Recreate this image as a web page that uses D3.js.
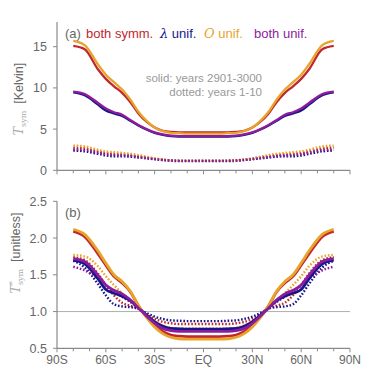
<!DOCTYPE html>
<html lang="en">
<head>
<meta charset="UTF-8">
<title>T_sym</title>
<script src="https://cdn.jsdelivr.net/npm/d3@7/dist/d3.min.js"></script>
<style>
  body { margin: 0; background: #fff; }
  svg { font-family: "Liberation Sans", Arial, sans-serif; }
</style>
</head>
<body>
<div id="chart"></div>
<script>
// latitudes of the curves
const lats = [-80,-73,-65,-60,-55,-50,-45,-40,-35,-30,-25,-20,-15,-10,-5,0,5,10,15,20,25,30,35,40,45,50,55,60,65,73,80]

// panel (a) Tsym [Kelvin], solid = years 2901-3000
const aRedSolid    = [15.1,14.7,12.3,11.1,10.2,9.4,8.3,6.9,5.9,5.2,4.8,4.65,4.6,4.6,4.6,4.6,4.6,4.6,4.6,4.65,4.8,5.2,5.9,6.9,8.3,9.4,10.2,11.1,12.3,14.7,15.1]
const aBlueSolid   = [9.45,9.1,8.0,7.25,6.9,6.6,6.0,5.45,4.95,4.55,4.3,4.15,4.1,4.1,4.1,4.1,4.1,4.1,4.1,4.15,4.3,4.55,4.95,5.45,6.0,6.6,6.9,7.25,8.0,9.1,9.45]
const aOrangeSolid = [15.7,15.2,12.9,11.6,10.7,9.8,8.6,7.1,6.0,5.2,4.75,4.55,4.5,4.45,4.45,4.45,4.45,4.45,4.5,4.55,4.75,5.2,6.0,7.1,8.6,9.8,10.7,11.6,12.9,15.2,15.7]
const aPurpleSolid = [9.55,9.25,8.2,7.5,7.05,6.75,6.1,5.5,5.0,4.6,4.35,4.2,4.15,4.15,4.15,4.15,4.15,4.15,4.15,4.2,4.35,4.6,5.0,5.5,6.1,6.75,7.05,7.5,8.2,9.25,9.55]
// dotted = years 1-10
const aRedDot    = [2.75,2.65,2.3,2.1,2.0,1.95,1.85,1.7,1.55,1.4,1.3,1.2,1.15,1.15,1.15,1.15,1.15,1.15,1.15,1.2,1.3,1.4,1.55,1.7,1.85,1.95,2.0,2.1,2.3,2.65,2.75]
const aBlueDot   = [2.4,2.3,2.0,1.8,1.7,1.7,1.65,1.55,1.45,1.35,1.25,1.15,1.12,1.12,1.12,1.12,1.12,1.12,1.12,1.15,1.25,1.35,1.45,1.55,1.65,1.7,1.7,1.8,2.0,2.3,2.4]
const aOrangeDot = [3.0,2.9,2.5,2.3,2.2,2.1,2.0,1.85,1.65,1.45,1.3,1.2,1.15,1.15,1.15,1.15,1.15,1.15,1.15,1.2,1.3,1.45,1.65,1.85,2.0,2.1,2.2,2.3,2.5,2.9,3.0]
const aPurpleDot = [2.5,2.45,2.15,1.95,1.85,1.8,1.75,1.6,1.5,1.35,1.25,1.2,1.15,1.15,1.15,1.15,1.15,1.15,1.15,1.2,1.25,1.35,1.5,1.6,1.75,1.8,1.85,1.95,2.15,2.45,2.5]

// panel (b) T*sym [unitless]
const bRedSolid    = [2.09,2.02,1.79,1.63,1.48,1.39,1.27,1.08,0.93,0.81,0.73,0.68,0.665,0.66,0.66,0.66,0.66,0.66,0.665,0.68,0.73,0.81,0.93,1.08,1.27,1.39,1.48,1.63,1.79,2.02,2.09]
const bBlueSolid   = [1.70,1.65,1.45,1.30,1.25,1.21,1.15,1.05,0.95,0.86,0.80,0.77,0.765,0.76,0.76,0.76,0.76,0.76,0.765,0.77,0.80,0.86,0.95,1.05,1.15,1.21,1.25,1.30,1.45,1.65,1.70]
const bOrangeSolid = [2.12,2.05,1.83,1.66,1.50,1.41,1.28,1.08,0.92,0.79,0.70,0.65,0.63,0.625,0.625,0.625,0.625,0.625,0.63,0.65,0.70,0.79,0.92,1.08,1.28,1.41,1.50,1.66,1.83,2.05,2.12]
const bPurpleSolid = [1.72,1.68,1.50,1.36,1.29,1.24,1.16,1.05,0.94,0.84,0.77,0.74,0.73,0.73,0.73,0.73,0.73,0.73,0.73,0.74,0.77,0.84,0.94,1.05,1.16,1.24,1.29,1.36,1.50,1.68,1.72]
const bRedDot    = [1.74,1.70,1.52,1.36,1.22,1.12,1.08,1.04,0.96,0.90,0.86,0.84,0.83,0.83,0.83,0.83,0.83,0.83,0.83,0.84,0.86,0.90,0.96,1.04,1.08,1.12,1.22,1.36,1.52,1.70,1.74]
const bBlueDot   = [1.69,1.60,1.38,1.22,1.10,1.07,1.06,1.04,0.98,0.93,0.90,0.88,0.875,0.87,0.87,0.87,0.87,0.87,0.875,0.88,0.90,0.93,0.98,1.04,1.06,1.07,1.10,1.22,1.38,1.60,1.69]
const bOrangeDot = [1.77,1.75,1.62,1.48,1.36,1.25,1.16,1.06,0.95,0.87,0.81,0.78,0.77,0.77,0.77,0.77,0.77,0.77,0.77,0.78,0.81,0.87,0.95,1.06,1.16,1.25,1.36,1.48,1.62,1.75,1.77]
const bPurpleDot = [1.61,1.56,1.45,1.36,1.27,1.20,1.13,1.05,0.95,0.86,0.80,0.77,0.76,0.755,0.755,0.755,0.755,0.755,0.76,0.77,0.80,0.86,0.95,1.05,1.13,1.20,1.27,1.36,1.45,1.56,1.61]

const xTicks = [-90,-60,-30,0,30,60,90]
const xTickLabels = ['90S','60S','30S','EQ','30N','60N','90N']
const xMinorTicks = d3.range(-90, 91, 10)
const aYTicks = [0,5,10,15]
const bYTicks = [0.5,1.0,1.5,2.0,2.5]

const colors = { red: '#c0282d', blue: '#16168c', orange: '#e8a32a', purple: '#8c1c9c' }
const axisColor = '#8a8a8a'
const textColor = '#666'

const width = 374
const height = 372
const svg = d3.select('#chart').append('svg')
    .attr('width', width)
    .attr('height', height)

const xScale = d3.scaleLinear().domain([-90, 90]).range([57, 350])

function drawPanel(cfg) {
    const y = d3.scaleLinear().domain(cfg.domain).range(cfg.range)
    const g = svg.append('g')

    if (cfg.refLine != null) {
        g.append('line')
            .attr('x1', xScale(-90)).attr('x2', xScale(90))
            .attr('y1', y(cfg.refLine)).attr('y2', y(cfg.refLine))
            .attr('stroke', '#b0b0b0').attr('stroke-width', 1)
    }

    // x axis
    const xg = g.append('g').attr('transform', `translate(0,${cfg.range[0]})`)
    xg.append('line').attr('x1', xScale(-90)).attr('x2', xScale(90))
        .attr('stroke', axisColor).attr('stroke-width', 1.2)
    xg.selectAll('.minor').data(xMinorTicks).enter().append('line')
        .attr('x1', d => xScale(d)).attr('x2', d => xScale(d))
        .attr('y1', 0).attr('y2', d => d % 30 === 0 ? 4 : 3)
        .attr('stroke', axisColor).attr('stroke-width', 1)
    if (cfg.xLabels) {
        xg.selectAll('.xl').data(xTicks).enter().append('text')
            .attr('x', d => xScale(d)).attr('y', 16)
            .attr('text-anchor', 'middle')
            .attr('font-size', 12).attr('fill', textColor)
            .text((d, i) => xTickLabels[i])
    }

    // y axis
    const yg = g.append('g').attr('transform', `translate(${xScale(-90)},0)`)
    yg.append('line').attr('y1', cfg.range[0]).attr('y2', cfg.range[1])
        .attr('stroke', axisColor).attr('stroke-width', 1.2)
    yg.selectAll('.yt').data(cfg.ticks).enter().append('line')
        .attr('x1', -4).attr('x2', 0)
        .attr('y1', d => y(d)).attr('y2', d => y(d))
        .attr('stroke', axisColor)
    yg.selectAll('.yl').data(cfg.ticks).enter().append('text')
        .attr('x', -10).attr('y', d => y(d) + 4.5)
        .attr('text-anchor', 'end')
        .attr('font-size', 12.5).attr('fill', textColor)
        .text(cfg.fmt)

    // y label
    const lab = g.append('text')
        .attr('transform', `translate(${cfg.labelX},${cfg.labelY}) rotate(-90)`)
        .attr('text-anchor', 'middle')
        .attr('font-size', 12.5)
    lab.append('tspan').attr('font-family', '"DejaVu Serif", serif').attr('font-style', 'italic')
        .attr('fill', '#aaa').text('T')
    if (cfg.star) {
        lab.append('tspan').attr('font-family', '"DejaVu Serif", serif').attr('font-size', 8)
            .attr('dy', -5).attr('fill', '#aaa').text('*')
        lab.append('tspan').attr('font-family', '"DejaVu Serif", serif').attr('font-size', 8)
            .attr('dx', -4).attr('dy', 8).attr('fill', '#aaa').text('sym')
    } else {
        lab.append('tspan').attr('font-family', '"DejaVu Serif", serif').attr('font-size', 8)
            .attr('dy', 3).attr('fill', '#aaa').text('sym')
    }
    lab.append('tspan').attr('dy', -3).attr('fill', textColor)
        .text('\u00a0\u00a0' + cfg.unit)

    const line = d3.line().x((d, i) => xScale(lats[i])).y(d => y(d)).curve(d3.curveMonotoneX)

    cfg.dotted.forEach(s => {
        g.append('path').attr('d', line(s.v)).attr('fill', 'none')
            .attr('stroke', s.c).attr('stroke-width', 2.4)
            .attr('stroke-dasharray', '1.6,1.8')
    })
    cfg.solid.forEach(s => {
        g.append('path').attr('d', line(s.v)).attr('fill', 'none')
            .attr('stroke', s.c).attr('stroke-width', cfg.lw)
            .attr('stroke-linejoin', 'round')
    })

    g.append('text').attr('x', 65).attr('y', cfg.range[1] + 16)
        .attr('font-size', 13).attr('fill', textColor).text(cfg.tag)
    return y
}

drawPanel({
    domain: [0, 18], range: [170.3, 22], ticks: aYTicks, fmt: d => d,
    labelX: 23, labelY: 99, unit: '[Kelvin]', star: false, tag: '(a)', xLabels: false, lw: 2.3,
    solid: [
        { v: aRedSolid, c: colors.red }, { v: aBlueSolid, c: colors.blue },
        { v: aOrangeSolid, c: colors.orange }, { v: aPurpleSolid, c: colors.purple }
    ],
    dotted: [
        { v: aRedDot, c: colors.red }, { v: aBlueDot, c: colors.blue },
        { v: aOrangeDot, c: colors.orange }, { v: aPurpleDot, c: colors.purple }
    ]
})

drawPanel({
    domain: [0.5, 2.5], range: [348.3, 201.3], ticks: bYTicks, fmt: d3.format('.1f'),
    labelX: 19.5, labelY: 253, unit: '[unitless]', star: true, tag: '(b)', xLabels: true, lw: 2.8, refLine: 1.0,
    solid: [
        { v: bRedSolid, c: colors.red }, { v: bBlueSolid, c: colors.blue },
        { v: bOrangeSolid, c: colors.orange }, { v: bPurpleSolid, c: colors.purple }
    ],
    dotted: [
        { v: bRedDot, c: colors.red }, { v: bBlueDot, c: colors.blue },
        { v: bOrangeDot, c: colors.orange }, { v: bPurpleDot, c: colors.purple }
    ]
})

// legend in panel (a)
const legend = svg.append('text').attr('y', 38).attr('font-size', 13)
legend.append('tspan').attr('x', 86).attr('fill', colors.red).text('both symm.')
legend.append('tspan').attr('x', 160).attr('fill', colors.blue)
    .attr('font-family', '"DejaVu Serif", serif').attr('font-style', 'italic').text('\u03bb')
legend.append('tspan').attr('fill', colors.blue).text(' unif.')
legend.append('tspan').attr('x', 204).attr('fill', colors.orange)
    .attr('font-family', '"DejaVu Serif", serif').attr('font-style', 'italic').text('O')
legend.append('tspan').attr('fill', colors.orange).text(' unif.')
legend.append('tspan').attr('x', 254).attr('fill', colors.purple).text('both unif.')

// note
svg.append('text').attr('x', 262).attr('y', 82).attr('text-anchor', 'end')
    .attr('font-size', 11.5).attr('fill', '#999').text('solid: years 2901-3000')
svg.append('text').attr('x', 262).attr('y', 96).attr('text-anchor', 'end')
    .attr('font-size', 11.5).attr('fill', '#999').text('dotted: years 1-10')
</script>
</body>
</html>
